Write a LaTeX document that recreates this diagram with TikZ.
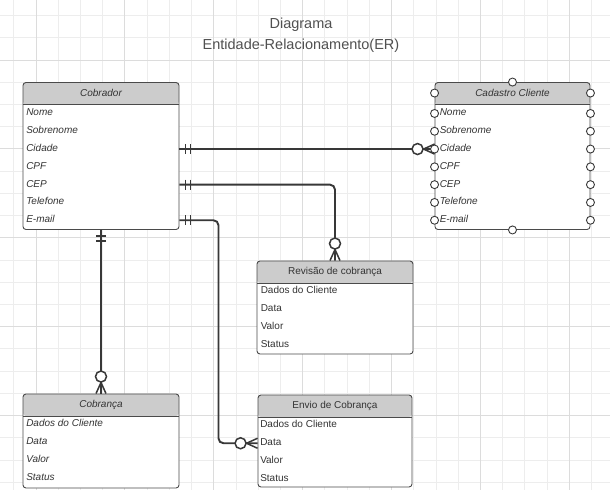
\documentclass[tikz,border=0pt]{standalone}
\usepackage{fontspec}
\setmainfont{Liberation Sans}
\usepackage{xcolor}
\definecolor{erLine}{HTML}{383838}
\definecolor{erBorder}{HTML}{4A4A4A}
\definecolor{erHead}{HTML}{CCCCCC}
\definecolor{erText}{HTML}{333333}
\definecolor{gridMinor}{HTML}{EDEDED}
\definecolor{gridMajor}{HTML}{DCDCDC}
\definecolor{titleGray}{HTML}{505050}
\usepackage{tikz}
\usetikzlibrary{positioning}

\begin{document}
\begin{tikzpicture}[
		x=1pt, y=-1pt,
		entity/.style={
			draw=erBorder,
			line width=0.9pt,
			fill=white,
			rounded corners=3pt,
			inner sep=0pt,
			path picture={
				\fill[erHead] (path picture bounding box.north west) rectangle ([yshift=-22pt]path picture bounding box.north east);
				\draw[erBorder, line width=0.9pt] ([yshift=-22pt]path picture bounding box.north west) -- ([yshift=-22pt]path picture bounding box.north east);
			}
		},
		head/.style={font=\fontsize{10}{12}\selectfont, text=erText, inner sep=0pt},
		headi/.style={head, font=\fontsize{10}{12}\selectfont\itshape},
		attr/.style={anchor=west, inner sep=0pt, text height=7pt, text depth=2pt, text=erText, font=\fontsize{10}{12}\selectfont},
		attri/.style={attr, font=\fontsize{10}{12}\selectfont\itshape},
		rel/.style={draw=erLine, line width=1.9pt, rounded corners=5pt},
		port/.style={draw=erLine, line width=0.9pt, fill=white},
		pics/onlyone/.style={code={
			\draw[erLine, line width=1.5pt] (6,-5) -- (6,5) (11,-5) -- (11,5);
		}},
		pics/zeromany/.style={code={
			\draw[erLine, line width=1.5pt] (0,-5) -- (11,0) -- (0,5);
			\draw[erLine, line width=1.5pt, fill=white] (17,0) circle (5.5);
		}}
		]
		
		\useasboundingbox[fill=white] (0,0) rectangle (610,490);
		
		\foreach \i in {-1,...,26}
			\draw[gridMinor, line width=0.8pt] ({36+22.22*\i},0) -- ({36+22.22*\i},490);
		\foreach \j in {-2,...,19}
			\draw[gridMinor, line width=0.8pt] (0,{60+22.22*\j}) -- (610,{60+22.22*\j});
		\foreach \i in {0,...,6}
			\draw[gridMajor, line width=0.8pt] ({36+88.88*\i},0) -- ({36+88.88*\i},490);
		\foreach \j in {0,...,4}
			\draw[gridMajor, line width=0.8pt] (0,{60+88.88*\j}) -- (610,{60+88.88*\j});
		
		\node[align=center, text=titleGray, font=\fontsize{14.5}{21}\selectfont] (titulo) at (301,35) {Diagrama\\Entidade-Relacionamento(ER)};
		
		\node[entity, minimum width=156pt, minimum height=147pt] (cobrador) at (101,156) {};
		\node[entity, minimum width=155pt, minimum height=147pt] (cadastro) at (512.5,156) {};
		\node[entity, minimum width=156pt, minimum height=93pt] (revisao) at (335,307.5) {};
		\node[entity, minimum width=156pt, minimum height=94pt] (cobranca) at (101,441) {};
		\node[entity, minimum width=154pt, minimum height=92pt] (envio) at (335,441) {};
		
		\node[headi] (cobTitle) at ([yshift=-11pt]cobrador.north) {Cobrador};
		\node[headi] (cadTitle) at ([yshift=-11pt]cadastro.north) {Cadastro Cliente};
		\node[head] (revTitle) at ([yshift=-11pt]revisao.north) {Revisão de cobrança};
		\node[headi] (cbcTitle) at ([yshift=-11pt]cobranca.north) {Cobrança};
		\node[head] (envTitle) at ([yshift=-11pt]envio.north) {Envio de Cobrança};
		
		\foreach \txt [count=\i] in {Nome, Sobrenome, Cidade, CPF, CEP, Telefone, E-mail} {
			\node[attri] (cob\i) at ([xshift=3.5pt, yshift={-22.5pt-(\i-0.5)*17.8pt}]cobrador.north west) {\txt};
			\node[attri] (cad\i) at ([xshift=5pt, yshift={-22.5pt-(\i-0.5)*17.8pt}]cadastro.north west) {\txt};
		}
		\foreach \txt [count=\i] in {Dados do Cliente, Data, Valor, Status} {
			\node[attr] (rev\i) at ([xshift=4pt, yshift={-22pt-(\i-0.5)*17.8pt}]revisao.north west) {\txt};
			\node[attri] (cbc\i) at ([xshift=3.5pt, yshift={-22pt-(\i-0.5)*17.8pt}]cobranca.north west) {\txt};
			\node[attr] (env\i) at ([xshift=2.5pt, yshift={-22pt-(\i-0.5)*17.8pt}]envio.north west) {\txt};
		}
		
		\draw[rel] (cobrador.east |- cob3) -- (cadastro.west |- cob3);
		\draw[rel] (cobrador.east |- cob5) -| (revisao.north);
		\draw[rel] (cobrador.east |- cob7) -| ([xshift=39pt]cobrador.east |- env2) -- (envio.west |- env2);
		\draw[rel] (cobrador.south) -- (cobranca.north);
		
		\pic at (cobrador.east |- cob3) {onlyone};
		\pic at (cobrador.east |- cob5) {onlyone};
		\pic at (cobrador.east |- cob7) {onlyone};
		\pic[rotate=-90] at (cobrador.south) {onlyone};
		\pic[rotate=180] at (cadastro.west |- cob3) {zeromany};
		\pic[rotate=90] at (revisao.north) {zeromany};
		\pic[rotate=90] at (cobranca.north) {zeromany};
		\pic[rotate=180] at (envio.west |- env2) {zeromany};
		
		\foreach \r in {cadTitle, cad1, cad2, cad3, cad4, cad5, cad6, cad7} {
			\draw[port] (cadastro.west |- \r) circle (4);
			\draw[port] (cadastro.east |- \r) circle (4);
		}
		\draw[port] (cadastro.north) circle (4);
		\draw[port] (cadastro.south) circle (4);
		
	\end{tikzpicture}
\end{document}
